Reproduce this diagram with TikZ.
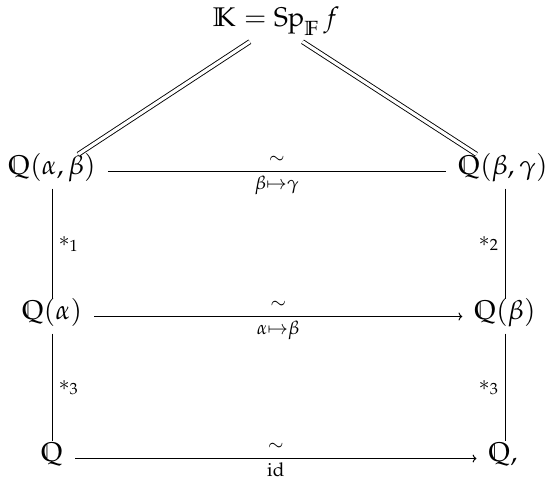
\documentclass[tikz,border=0pt]{standalone}
\usepackage{amsmath}
\usepackage{amssymb}
\usepackage{mathpazo}
\usetikzlibrary{arrows.meta}
\begin{document}
\begin{tikzpicture}[x=1pt,y=-1pt,
  obj/.style={anchor=base,inner sep=12pt,text height=0.75em,text depth=0.25em,font=\fontsize{27}{32}\selectfont},
  lblup/.style={above,inner sep=8pt,font=\fontsize{25}{30}\selectfont},
  lbldn/.style={below,inner sep=4pt,font=\fontsize{25}{30}\selectfont},
  vlbl/.style={inner sep=6pt,font=\fontsize{27}{32}\selectfont},
  conn/.style={line width=1pt},
  arr/.style={line width=1pt,-{Computer Modern Rightarrow}},
  dbl/.style={line width=0.9pt,double,double distance=3.2pt}]
\useasboundingbox (0,0) rectangle (547,479);
\node[obj] (top) at (276,27) {$\mathbb{K} = \operatorname{Sp}_{\mathbb{F}} f$};
\node[obj] (qab) at (52,174) {$\mathbb{Q}(\alpha,\beta)$};
\node[obj] (qbg) at (503,174) {$\mathbb{Q}(\beta,\gamma)$};
\node[obj] (qa) at (52,319) {$\mathbb{Q}(\alpha)$};
\node[obj] (qb) at (505,319) {$\mathbb{Q}(\beta)$};
\node[obj] (q1) at (52,461) {$\mathbb{Q}$};
\node[obj] (q2) at (503,461) {$\mathbb{Q},$};
\draw[dbl] (top) -- (qab);
\draw[dbl] (top) -- (qbg);
\draw[conn] (qab.east) -- node[lblup]{$\scriptstyle\sim$} node[lbldn]{$\scriptstyle\beta\mapsto\gamma$} (qbg.west);
\draw[arr] (qa.east) -- node[lblup]{$\scriptstyle\sim$} node[lbldn]{$\scriptstyle\alpha\mapsto\beta$} (qb.west);
\draw[arr] (q1.east) -- node[lblup]{$\scriptstyle\sim$} node[lbldn]{$\scriptstyle\mathrm{id}$} (q2.west);
\draw[conn] (qab.south) -- node[vlbl,right]{$\scriptstyle *_1$} (qa.north);
\draw[conn] (qbg.south -| qb.north) -- node[vlbl,left]{$\scriptstyle *_2$} (qb.north);
\draw[conn] (qa.south) -- node[vlbl,right]{$\scriptstyle *_3$} (q1.north);
\draw[conn] (qb.south) -- node[vlbl,left]{$\scriptstyle *_3$} (q2.north -| qb.south);
\end{tikzpicture}
\end{document}
